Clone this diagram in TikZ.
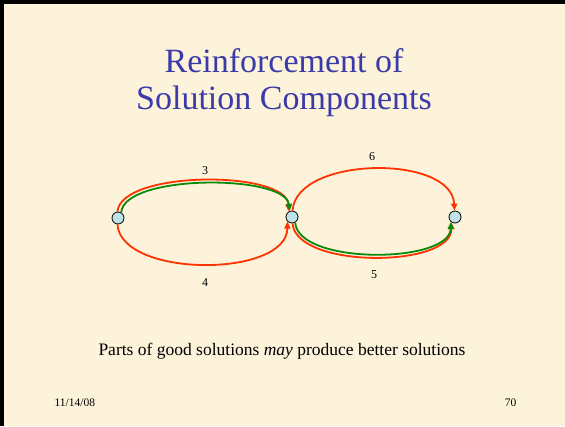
\documentclass[tikz,border=0pt]{standalone}
\usepackage{fontspec}
\setmainfont{Liberation Serif}
\usetikzlibrary{arrows.meta}
\definecolor{parch}{HTML}{FDF3DB}
\definecolor{titleblue}{HTML}{3A3AA8}
\definecolor{redarc}{HTML}{FF3300}
\definecolor{greenarc}{HTML}{0A8A0A}
\definecolor{nodeblue}{HTML}{BFE2EA}
\tikzset{
  vert/.style={circle, draw=black, line width=0.8pt, fill=nodeblue, minimum size=12pt, inner sep=0pt},
  redpath/.style={draw=redarc, line width=1.8pt, -{Triangle[length=7pt,width=6pt]}},
  greenpath/.style={draw=greenarc, line width=1.8pt, -{Triangle[length=7pt,width=6pt]}},
  lbl/.style={font=\fontsize{12}{14}\selectfont, text=black},
}
\begin{document}
\begin{tikzpicture}[x=1pt,y=-1pt]
\useasboundingbox (0,0) rectangle (565,426);
\fill[parch] (0,0) rectangle (565,426);
\fill[black] (0,0) rectangle (565,4);
\fill[black] (0,0) rectangle (4,426);

\node[text=titleblue, align=center, font=\fontsize{34}{37}\selectfont] (title) at (284,83) {Reinforcement of\\Solution Components};

\node[vert] (A) at (118,218) {};
\node[vert] (B) at (292,217) {};
\node[vert] (C) at (455,217) {};

% left ellipse
\draw[redpath] (A.95) .. controls (121,170) and (287,170) .. (B.120);
\draw[greenpath] (A.60) .. controls (124,174) and (285,174) .. (B.110);
\draw[redpath] (A.265) .. controls (121,278) and (287,278) .. (B.225);

% right ellipse
\draw[redpath] (B.85) .. controls (296,156) and (452,154) .. (C.95);
\draw[redpath] (B.275) .. controls (296,269) and (452,268) .. (C.235);
\draw[greenpath] (B.300) .. controls (298,265) and (450,264) .. (C.230);

\node[lbl] (l3) at (205,171) {3};
\node[lbl] (l4) at (205,283) {4};
\node[lbl] (l6) at (372,157) {6};
\node[lbl] (l5) at (374,275) {5};

\node[font=\fontsize{17.5}{20}\selectfont] (caption) at (282,351) {Parts of good solutions \textit{may} produce better solutions};

\node[font=\fontsize{11.5}{13}\selectfont, anchor=west] (date) at (51,403) {11/14/08};
\node[font=\fontsize{11.5}{13}\selectfont, anchor=east] (page) at (520,403) {70};
\end{tikzpicture}
\end{document}
